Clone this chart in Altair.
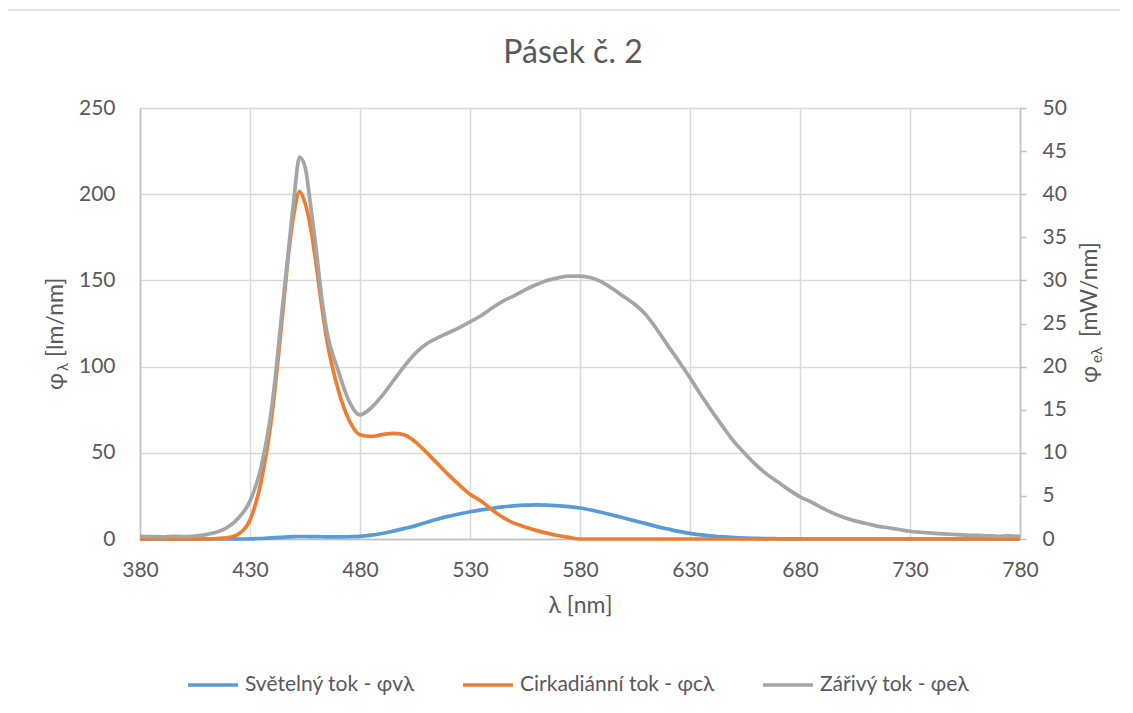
import altair as alt
import pandas as pd

# ---------------- data ----------------
wavelength = [380, 385, 390, 395, 400, 405, 410, 415, 420, 425, 430, 435, 440, 445,
              447.5, 450, 452.5, 455, 457.5, 460, 462.5, 465,
              470, 475, 480, 485, 490, 495, 500, 505, 510, 515, 520, 525, 530, 535,
              540, 545, 550, 555, 560, 565, 570, 575, 580, 585, 590, 595, 600, 605,
              610, 615, 620, 625, 630, 635, 640, 645, 650, 655, 660, 665, 670, 675,
              680, 685, 690, 695, 700, 705, 710, 715, 720, 725, 730, 735, 740, 745,
              750, 755, 760, 765, 770, 775, 780]

# luminous flux  [lm/nm]  (left axis)
svetelny = [0, 0, 0, 0, 0, 0, 0, 0, 0, 0, 0.1, 0.3, 0.6, 1.0,
            1.2, 1.35, 1.45, 1.45, 1.4, 1.35, 1.3, 1.25,
            1.2, 1.3, 1.5, 2.2, 3.2, 4.5, 6.0, 7.6, 9.6, 11.5, 13.1, 14.5, 15.8, 16.9,
            17.8, 18.6, 19.2, 19.6, 19.8, 19.7, 19.3, 18.8, 18.0, 16.8, 15.4, 13.8, 12.2, 10.5,
            8.9, 7.2, 5.8, 4.4, 3.3, 2.4, 1.8, 1.2, 0.8, 0.5, 0.35, 0.2, 0.15, 0.1,
            0.05, 0, 0, 0, 0, 0, 0, 0, 0, 0, 0, 0, 0, 0,
            0, 0, 0, 0, 0, 0, 0]

# circadian flux  [lm/nm]  (left axis)
cirkadianni = [0, 0, 0, 0, 0, 0, 0.1, 0.3, 0.8, 3.0, 11, 33, 72, 133,
               165, 189, 201.5, 195, 181, 160, 136, 115,
               87, 69, 60.5, 59.5, 60.5, 61.3, 60.5, 56.5, 50.5, 44, 37.5, 31.5, 26, 22,
               17, 12.5, 9.2, 7.0, 5.0, 3.4, 2.0, 0.9, 0, 0, 0, 0, 0, 0,
               0, 0, 0, 0, 0, 0, 0, 0, 0, 0, 0, 0, 0, 0,
               0, 0, 0, 0, 0, 0, 0, 0, 0, 0, 0, 0, 0, 0,
               0, 0, 0, 0, 0, 0, 0]

# radiant flux  [mW/nm]  (right axis)
zarivy = [0.30, 0.28, 0.25, 0.32, 0.28, 0.35, 0.5, 0.8, 1.4, 2.5, 4.4, 8.3, 15.5, 27.5,
          33.5, 39.5, 44.3, 43.2, 38.8, 33.8, 28.2, 24.0,
          19.6, 16.0, 14.4, 15.2, 16.6, 18.3, 20.0, 21.5, 22.6, 23.3, 23.9, 24.5, 25.2, 25.9,
          26.8, 27.6, 28.2, 28.9, 29.5, 30.0, 30.3, 30.5, 30.5, 30.3, 29.8, 29.0, 28.1, 27.2,
          26.0, 24.3, 22.4, 20.6, 18.7, 16.7, 14.8, 13.0, 11.3, 9.9, 8.6, 7.5, 6.6, 5.7,
          4.9, 4.3, 3.6, 3.0, 2.5, 2.1, 1.8, 1.5, 1.3, 1.1, 0.9, 0.78, 0.68, 0.6,
          0.52, 0.45, 0.42, 0.38, 0.32, 0.36, 0.3]

series_names = ["Světelný tok - φvλ", "Cirkadiánní tok - φcλ", "Zářivý tok - φeλ"]
series_colors = ["#5B9BD5", "#ED7D31", "#A5A5A5"]
x_ticks = [380, 430, 480, 530, 580, 630, 680, 730, 780]
left_ticks = [0, 50, 100, 150, 200, 250]
right_ticks = [0, 5, 10, 15, 20, 25, 30, 35, 40, 45, 50]

n = len(wavelength)
assert len(svetelny) == n and len(cirkadianni) == n and len(zarivy) == n

left_df = pd.DataFrame({
    "wl": wavelength * 2,
    "val": svetelny + cirkadianni,
    "series": [series_names[0]] * n + [series_names[1]] * n,
})
right_df = pd.DataFrame({"wl": wavelength, "val": zarivy, "series": [series_names[2]] * n})
one = pd.DataFrame({"a": [0]})

FONT = "Lato, 'Noto Sans', sans-serif"
TXT = "#595959"
AXIS_LINE = "#BFBFBF"
GRID = "#D9D9D9"

color_scale = alt.Scale(domain=series_names, range=series_colors)
legend = alt.Legend(title=None, orient="none", legendX=46, legendY=550, direction="horizontal",
                    symbolType="stroke", symbolSize=2500, symbolStrokeWidth=3.5,
                    labelFontSize=21, labelColor=TXT, labelFont=FONT, labelOffset=5,
                    labelLimit=400, columnPadding=41, padding=0)

x_axis = alt.Axis(values=x_ticks, title="λ [nm]", grid=True, gridColor=GRID, gridWidth=1.5,
                  ticks=False, tickSize=0, domainColor=AXIS_LINE, domainWidth=1.5,
                  labelFlush=False, labelOverlap=False,
                  labelFontSize=21, labelColor=TXT, labelFont=FONT, labelPadding=20,
                  titleFontSize=23, titleColor=TXT, titleFont=FONT, titleFontWeight="normal",
                  titlePadding=14)

left = alt.Chart(left_df).mark_line(strokeWidth=3.7, interpolate="monotone").encode(
    x=alt.X("wl:Q", scale=alt.Scale(domain=[380, 780], nice=False, zero=False), axis=x_axis),
    y=alt.Y("val:Q", scale=alt.Scale(domain=[0, 250], nice=False),
            axis=alt.Axis(orient="left", values=left_ticks, title=None, grid=True, gridColor=GRID,
                          gridWidth=1.5, ticks=False, tickSize=0, domainColor=AXIS_LINE,
                          domainWidth=1.5, labelFontSize=21, labelColor=TXT, labelFont=FONT,
                          labelPadding=25, labelFlush=False)),
    color=alt.Color("series:N", scale=color_scale, legend=legend),
)

right = alt.Chart(right_df).mark_line(strokeWidth=3.7, interpolate="monotone").encode(
    x=alt.X("wl:Q", scale=alt.Scale(domain=[380, 780], nice=False, zero=False)),
    y=alt.Y("val:Q", scale=alt.Scale(domain=[0, 50], nice=False),
            axis=alt.Axis(orient="right", values=right_ticks, title=None, grid=False,
                          ticks=True, tickSize=6, tickColor=AXIS_LINE, tickWidth=1.5,
                          domainColor=AXIS_LINE, domainWidth=1.5, labelFontSize=21,
                          labelColor=TXT, labelFont=FONT, labelPadding=16, labelFlush=False)),
    color=alt.Color("series:N", scale=color_scale, legend=legend),
)

# chart-area border (left & top edges visible)
border_left = alt.Chart(one).mark_rule(color=GRID, strokeWidth=1.5).encode(
    x=alt.value(-133), y=alt.value(-98), y2=alt.value(640))
border_top = alt.Chart(one).mark_rule(color=GRID, strokeWidth=1.5).encode(
    x=alt.value(-133), x2=alt.value(1020), y=alt.value(-98))

title = alt.Chart(one).mark_text(text="Pásek č. 2", fontSize=32, font=FONT, color=TXT,
                                 align="center", baseline="alphabetic").encode(
    x=alt.value(433), y=alt.value(-45))


def vtext(txt, x, y, size):
    return alt.Chart(one).mark_text(text=txt, angle=270, align="left", baseline="alphabetic",
                                    fontSize=size, font=FONT, color=TXT).encode(
        x=alt.value(x), y=alt.value(y))


left_title = [vtext("φ", -77, 282, 23), vtext("λ", -72, 263, 15), vtext("[lm/nm]", -77, 249, 23)]
right_title = [vtext("φ", 957, 275, 23), vtext("eλ", 962, 255, 15), vtext("[mW/nm]", 957, 229, 23)]

chart = alt.layer(
    left, right, border_left, border_top, title, *left_title, *right_title
).resolve_scale(y="independent").properties(
    width=880, height=431, autosize="none",
    padding={"left": 132, "top": 100, "right": 100, "bottom": 160},
).configure_view(strokeWidth=0)

chart.save("out.html", embed_options={"renderer": "svg", "actions": False})
